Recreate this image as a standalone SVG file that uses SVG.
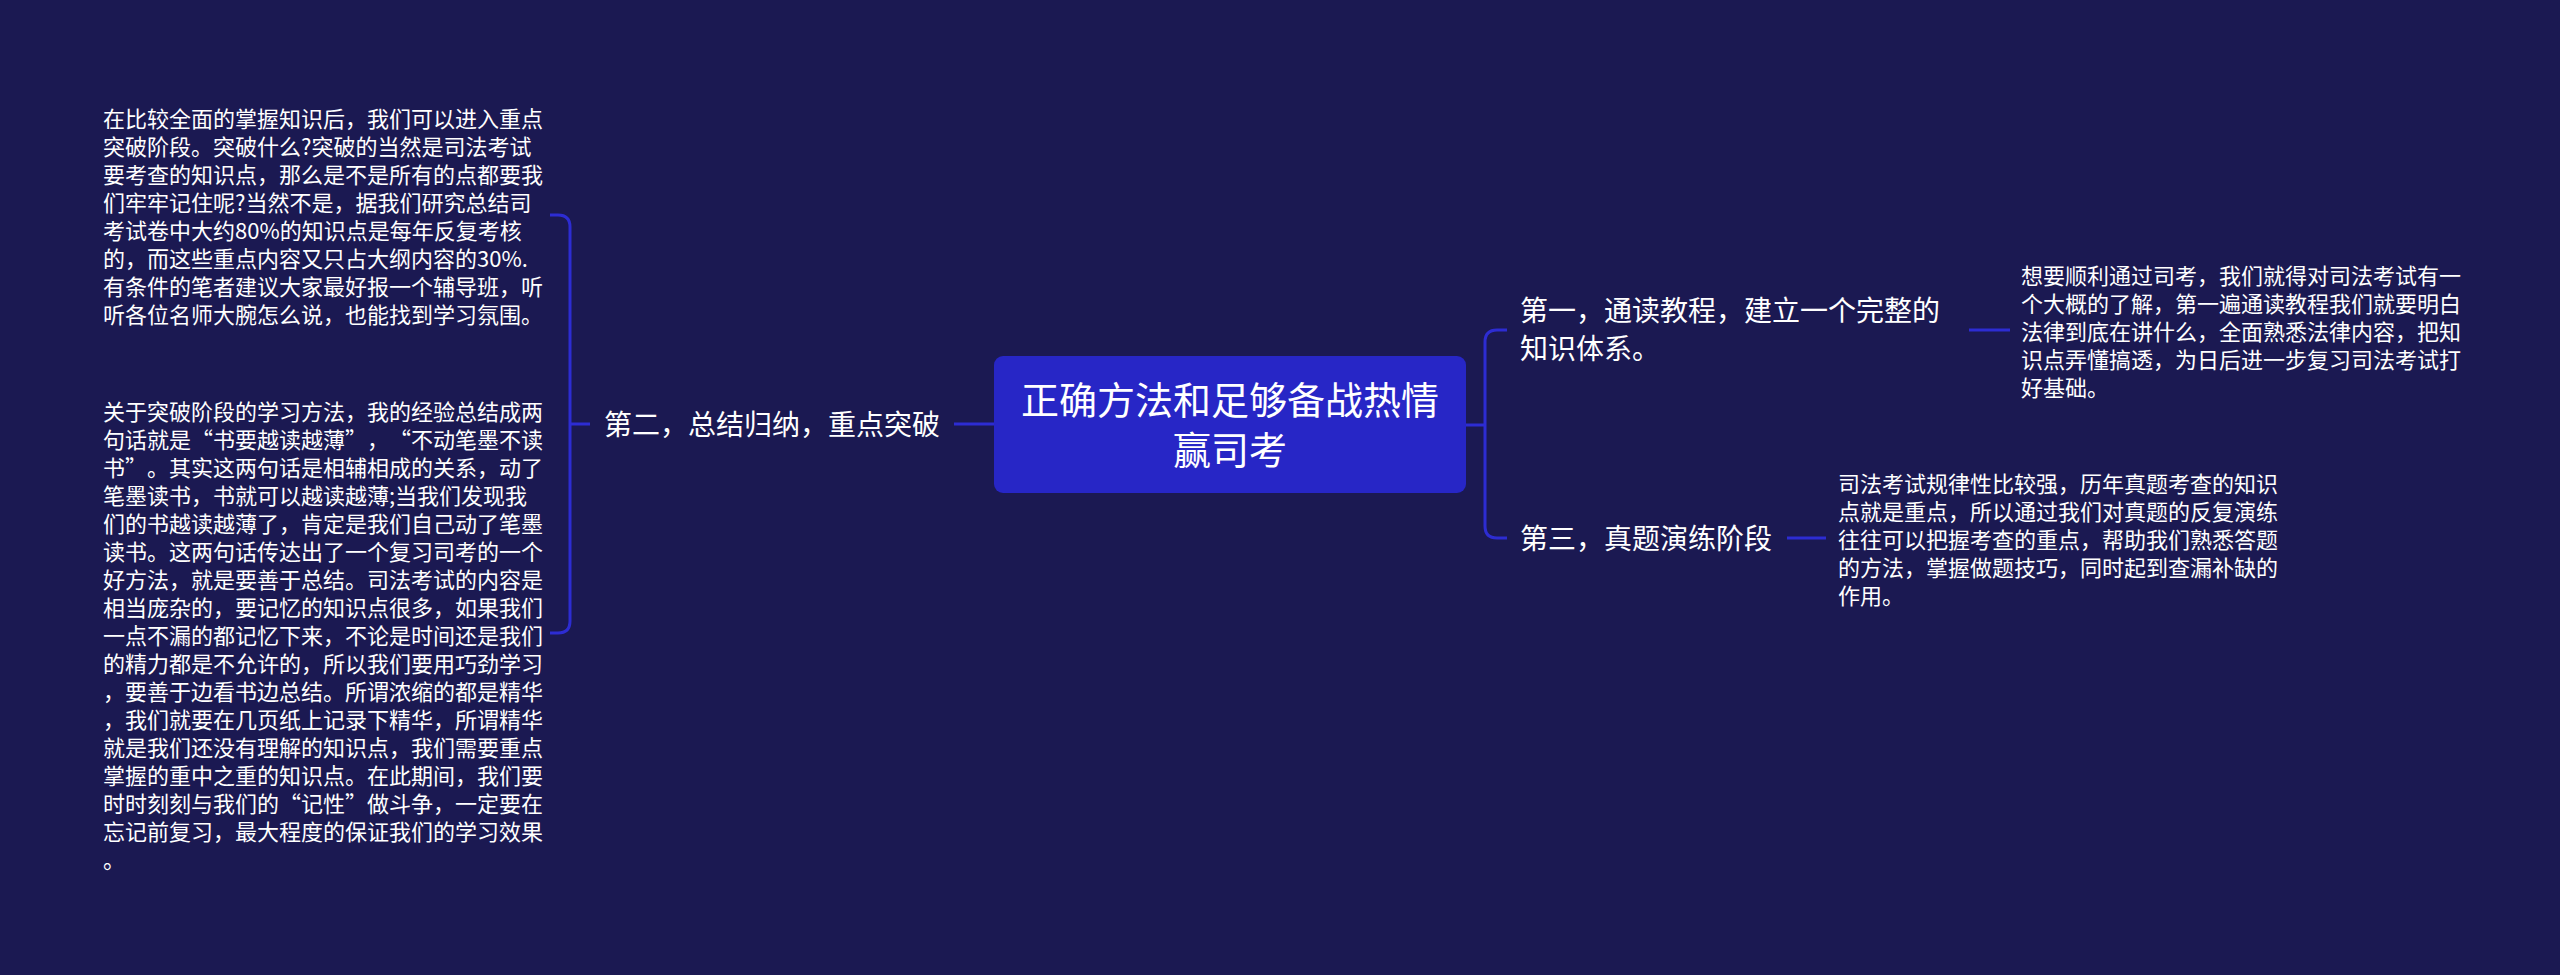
<svg xmlns="http://www.w3.org/2000/svg" width="2560" height="975" viewBox="0 0 2560 975">
<style>
.t{font-family:"Noto Sans CJK SC","Noto Sans",sans-serif;fill:#ffffff;text-spacing-trim:space-all}
.s{font-size:22px}
.m{font-size:28px}
.l{font-size:38px}
.c{fill:none;stroke:#2d2cd2;stroke-width:3}
</style>
<rect x="0" y="0" width="2560" height="975" fill="#1b1952"/>
<g id="connectors">
<path class="c" d="M994 424 H954"/>
<path class="c" d="M570 424 H590"/>
<path class="c" d="M550 215 H558 Q570 215 570 227 V621 Q570 633 558 633 H550"/>
<path class="c" d="M1466 425 H1485"/>
<path class="c" d="M1507 330 H1497 Q1485 330 1485 342 V526 Q1485 538 1497 538 H1507"/>
<path class="c" d="M1969 330 H2010"/>
<path class="c" d="M1787 538 H1826"/>
</g>
<g id="root">
<rect x="994" y="356" width="472" height="137" rx="9" fill="#2726c6"/>
<text class="t l" text-anchor="middle"><tspan x="1230" y="414">正确方法和足够备战热情</tspan><tspan x="1230" y="464">赢司考</tspan></text>
</g>
<g id="node-second">
<text class="t m" x="604" y="434.6">第二，总结归纳，重点突破</text>
</g>
<g id="node-second-a">
<text class="t s">
<tspan x="103" y="127.4">在比较全面的掌握知识后，我们可以进入重点</tspan>
<tspan x="103" y="155.4">突破阶段。突破什么?突破的当然是司法考试</tspan>
<tspan x="103" y="183.4">要考查的知识点，那么是不是所有的点都要我</tspan>
<tspan x="103" y="211.4">们牢牢记住呢?当然不是，据我们研究总结司</tspan>
<tspan x="103" y="239.4">考试卷中大约80%的知识点是每年反复考核</tspan>
<tspan x="103" y="267.4">的，而这些重点内容又只占大纲内容的30%.</tspan>
<tspan x="103" y="295.4">有条件的笔者建议大家最好报一个辅导班，听</tspan>
<tspan x="103" y="323.4">听各位名师大腕怎么说，也能找到学习氛围。</tspan>
</text>
</g>
<g id="node-second-b">
<text class="t s">
<tspan x="103" y="420">关于突破阶段的学习方法，我的经验总结成两</tspan>
<tspan x="103" y="448">句话就是“书要越读越薄”，“不动笔墨不读</tspan>
<tspan x="103" y="476">书”。其实这两句话是相辅相成的关系，动了</tspan>
<tspan x="103" y="504">笔墨读书，书就可以越读越薄;当我们发现我</tspan>
<tspan x="103" y="532">们的书越读越薄了，肯定是我们自己动了笔墨</tspan>
<tspan x="103" y="560">读书。这两句话传达出了一个复习司考的一个</tspan>
<tspan x="103" y="588">好方法，就是要善于总结。司法考试的内容是</tspan>
<tspan x="103" y="616">相当庞杂的，要记忆的知识点很多，如果我们</tspan>
<tspan x="103" y="644">一点不漏的都记忆下来，不论是时间还是我们</tspan>
<tspan x="103" y="672">的精力都是不允许的，所以我们要用巧劲学习</tspan>
<tspan x="103" y="700">，要善于边看书边总结。所谓浓缩的都是精华</tspan>
<tspan x="103" y="728">，我们就要在几页纸上记录下精华，所谓精华</tspan>
<tspan x="103" y="756">就是我们还没有理解的知识点，我们需要重点</tspan>
<tspan x="103" y="784">掌握的重中之重的知识点。在此期间，我们要</tspan>
<tspan x="103" y="812">时时刻刻与我们的“记性”做斗争，一定要在</tspan>
<tspan x="103" y="840">忘记前复习，最大程度的保证我们的学习效果</tspan>
<tspan x="103" y="868">。</tspan>
</text>
</g>
<g id="node-first">
<text class="t m"><tspan x="1520" y="321">第一，通读教程，建立一个完整的</tspan><tspan x="1520" y="359">知识体系。</tspan></text>
</g>
<g id="node-first-desc">
<text class="t s">
<tspan x="2021" y="284.4">想要顺利通过司考，我们就得对司法考试有一</tspan>
<tspan x="2021" y="312.4">个大概的了解，第一遍通读教程我们就要明白</tspan>
<tspan x="2021" y="340.4">法律到底在讲什么，全面熟悉法律内容，把知</tspan>
<tspan x="2021" y="368.4">识点弄懂搞透，为日后进一步复习司法考试打</tspan>
<tspan x="2021" y="396.4">好基础。</tspan>
</text>
</g>
<g id="node-third">
<text class="t m" x="1520" y="548.6">第三，真题演练阶段</text>
</g>
<g id="node-third-desc">
<text class="t s">
<tspan x="1838" y="492.4">司法考试规律性比较强，历年真题考查的知识</tspan>
<tspan x="1838" y="520.4">点就是重点，所以通过我们对真题的反复演练</tspan>
<tspan x="1838" y="548.4">往往可以把握考查的重点，帮助我们熟悉答题</tspan>
<tspan x="1838" y="576.4">的方法，掌握做题技巧，同时起到查漏补缺的</tspan>
<tspan x="1838" y="604.4">作用。</tspan>
</text>
</g>
</svg>
